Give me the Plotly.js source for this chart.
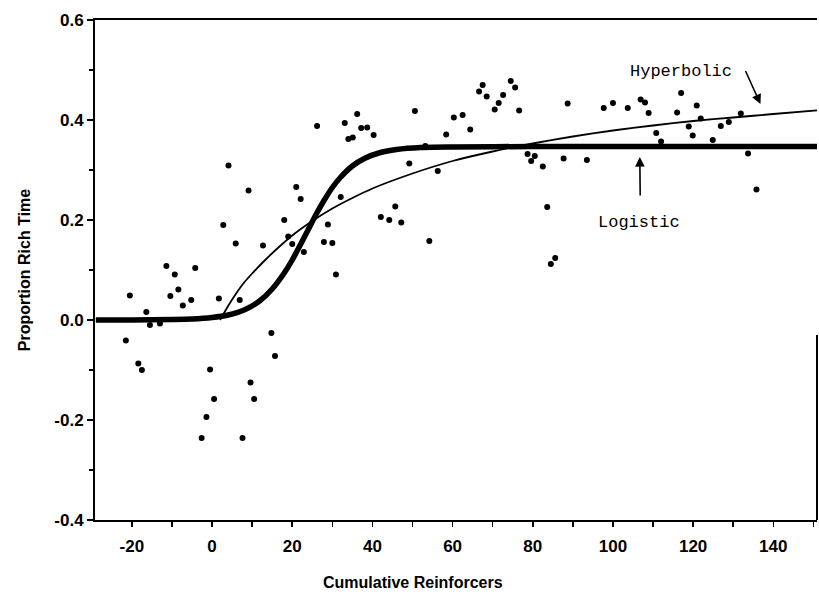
<!DOCTYPE html>
<html>
<head>
<meta charset="utf-8">
<script src="https://cdn.plot.ly/plotly-3.0.1.min.js"></script>
<style>
  html, body { margin: 0; padding: 0; background: #ffffff; }
  #chart { width: 819px; height: 600px; }
</style>
</head>
<body>
<div id="chart"></div>
<script>
// Observed data points (Cumulative Reinforcers, Proportion Rich Time)
const pointsX = [-21.5, -20.5, -18.4, -17.5, -16.4, -15.5, -13.0, -11.4, -9.3, -10.4,
  -8.4, -7.3, -5.2, -4.2, 1.7, 6.9, -0.5, 0.5, -1.4, -2.6,
  7.6, 9.6, 10.5, 14.8, 15.7, 2.8, 5.9, 4.1, 9.1, 12.7,
  18.0, 19.0, 20.0, 21.0, 22.1, 22.9, 28.9, 27.9, 30.0, 30.9,
  32.1, 26.2, 33.1, 36.2, 37.2, 38.7, 40.3, 34.0, 35.1, 42.1,
  44.2, 45.7, 47.2, 54.2, 50.6, 58.4, 60.3, 62.5, 64.4, 53.2,
  56.3, 67.5, 66.6, 68.5, 74.5, 75.6, 72.6, 71.5, 70.5, 76.6,
  88.7, 78.7, 80.5, 79.6, 82.5, 87.7, 93.5, 83.6, 85.6, 84.5,
  97.7, 100.0, 103.7, 106.9, 108.0, 108.9, 117.0, 116.0, 120.9, 121.9,
  118.9, 119.9, 110.8, 112.0, 124.9, 126.9, 128.9, 131.9, 133.7, 135.8,
  49.2];
const pointsY = [-0.041, 0.049, -0.087, -0.100, 0.016, -0.010, -0.007, 0.108, 0.091, 0.048,
  0.061, 0.029, 0.040, 0.104, 0.043, 0.040, -0.099, -0.158, -0.194, -0.236,
  -0.236, -0.125, -0.158, -0.026, -0.072, 0.190, 0.153, 0.309, 0.259, 0.149,
  0.200, 0.167, 0.152, 0.266, 0.242, 0.136, 0.191, 0.156, 0.154, 0.091,
  0.246, 0.388, 0.394, 0.412, 0.384, 0.385, 0.370, 0.362, 0.365, 0.206,
  0.200, 0.227, 0.195, 0.158, 0.418, 0.371, 0.405, 0.410, 0.381, 0.348,
  0.298, 0.470, 0.457, 0.447, 0.478, 0.465, 0.450, 0.434, 0.421, 0.419,
  0.433, 0.332, 0.328, 0.318, 0.307, 0.323, 0.320, 0.226, 0.124, 0.112,
  0.424, 0.434, 0.424, 0.441, 0.435, 0.414, 0.454, 0.415, 0.429, 0.403,
  0.387, 0.369, 0.374, 0.357, 0.360, 0.388, 0.396, 0.413, 0.333, 0.261,
  0.313];

// Logistic fitted curve
const logisticX = [-29, -20, -10, -5, 0, 4, 8, 12, 15, 18, 20, 22, 24, 26, 28, 30, 32, 35, 38, 42, 46, 52, 60, 80, 100, 120, 152];
const logisticY = [0.000, 0.000, 0.001, 0.002, 0.005, 0.010, 0.020, 0.039, 0.062, 0.094, 0.120, 0.150, 0.181, 0.212, 0.240, 0.265, 0.285, 0.308, 0.323, 0.335, 0.341, 0.345, 0.346, 0.347, 0.347, 0.347, 0.347];

// Hyperbolic fitted curve
const hyperX = [2, 4, 6, 8, 10, 13, 16, 20, 25, 30, 35, 40, 50, 60, 70, 80, 90, 100, 110, 120, 130, 140, 152];
const hyperY = [0.000, 0.028, 0.053, 0.075, 0.093, 0.118, 0.141, 0.169, 0.198, 0.223, 0.244, 0.263, 0.293, 0.318, 0.337, 0.353, 0.367, 0.379, 0.389, 0.398, 0.405, 0.412, 0.420];

// Tick labels
const xTickVals = [-20, 0, 20, 40, 60, 80, 100, 120, 140];
const xTickText = ['-20', '0', '20', '40', '60', '80', '100', '120', '140'];
const yTickVals = [-0.4, -0.2, 0.0, 0.2, 0.4, 0.6];
const yTickText = ['-0.4', '-0.2', '0.0', '0.2', '0.4', '0.6'];

const traces = [
  {
    x: logisticX, y: logisticY, type: 'scatter', mode: 'lines',
    line: { color: '#000000', width: 5.5, shape: 'spline', smoothing: 0.6 },
    hoverinfo: 'skip', showlegend: false
  },
  {
    x: hyperX, y: hyperY, type: 'scatter', mode: 'lines',
    line: { color: '#000000', width: 1.8, shape: 'spline', smoothing: 0.6 },
    hoverinfo: 'skip', showlegend: false
  },
  {
    x: pointsX, y: pointsY, type: 'scatter', mode: 'markers',
    marker: { color: '#000000', size: 6, line: { width: 0 } },
    showlegend: false
  }
];

const tickFont = { family: 'Liberation Sans, Arial, sans-serif', size: 17, color: '#000000', weight: 'bold' };
const titleFont = { family: 'Liberation Sans, Arial, sans-serif', size: 16, color: '#000000', weight: 'bold' };
const noteFont = { family: 'Liberation Mono, Courier New, monospace', size: 17, color: '#000000' };

const layout = {
  width: 819, height: 600,
  margin: { l: 95, r: 2, t: 20, b: 80 },
  paper_bgcolor: '#ffffff', plot_bgcolor: '#ffffff',
  showlegend: false,
  xaxis: {
    range: [-29.2, 150.9],
    tickvals: xTickVals, ticktext: xTickText,
    ticks: 'outside', ticklen: 5, tickwidth: 1.5, tickcolor: '#000000',
    minor: { dtick: 10, tick0: 0, ticks: 'outside', ticklen: 5, tickwidth: 1.5, tickcolor: '#000000' },
    showgrid: false, zeroline: false,
    showline: true, linecolor: '#000000', linewidth: 2, mirror: true,
    tickfont: tickFont, ticklabelstandoff: 5
  },
  yaxis: {
    range: [-0.4, 0.6],
    tickvals: yTickVals, ticktext: yTickText,
    ticks: 'outside', ticklen: 6, tickwidth: 1.5, tickcolor: '#000000',
    minor: { dtick: 0.1, tick0: 0, ticks: 'outside', ticklen: 4, tickwidth: 1.5, tickcolor: '#000000' },
    showgrid: false, zeroline: false,
    showline: true, linecolor: '#000000', linewidth: 2, mirror: false,
    tickfont: tickFont,
    title: { text: 'Proportion Rich Time', font: titleFont, standoff: 20 }
  },
  shapes: [
    { type: 'line', xref: 'paper', yref: 'paper', x0: 1, x1: 1, y0: 0, y1: 0.37,
      line: { color: '#000000', width: 2 } }
  ],
  annotations: [
    { x: 0.44, y: -0.124, xref: 'paper', yref: 'paper', text: 'Cumulative Reinforcers', showarrow: false,
      font: titleFont, xanchor: 'center', yanchor: 'middle' },
    { x: 116.9, y: 0.498, xref: 'x', yref: 'y', text: 'Hyperbolic', showarrow: false,
      font: noteFont, xanchor: 'center', yanchor: 'middle' },
    { x: 136.8, y: 0.432, ax: 132.9, ay: 0.501, xref: 'x', yref: 'y', axref: 'x', ayref: 'y',
      text: '', showarrow: true, arrowhead: 2, arrowsize: 1.2, arrowwidth: 1.6, arrowcolor: '#000000', standoff: 0 },
    { x: 106.5, y: 0.196, xref: 'x', yref: 'y', text: 'Logistic', showarrow: false,
      font: noteFont, xanchor: 'center', yanchor: 'middle' },
    { x: 106.7, y: 0.326, ax: 106.8, ay: 0.246, xref: 'x', yref: 'y', axref: 'x', ayref: 'y',
      text: '', showarrow: true, arrowhead: 2, arrowsize: 1.2, arrowwidth: 1.6, arrowcolor: '#000000', standoff: 0 }
  ]
};

Plotly.newPlot('chart', traces, layout, { displayModeBar: false, staticPlot: true });
</script>
</body>
</html>
